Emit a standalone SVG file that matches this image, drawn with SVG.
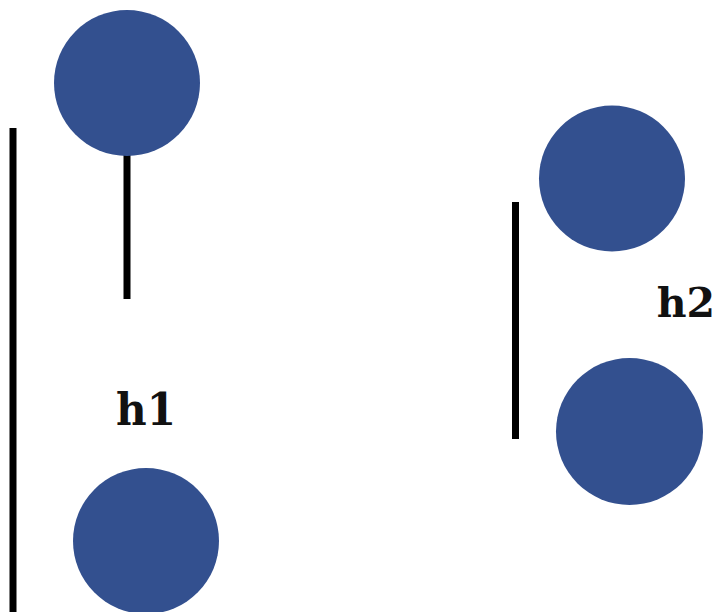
<svg xmlns="http://www.w3.org/2000/svg" width="718" height="612" viewBox="0 0 718 612">
<style>
.node{fill:#33508f}
.bar{stroke:#000;stroke-width:7;fill:none}
.lbl{font-family:"DejaVu Serif","Liberation Serif",serif;font-weight:bold;font-size:44px;fill:#111}
</style>
<rect width="718" height="612" fill="#fff"/>
<g id="connectors">
<line class="bar" x1="13" y1="128" x2="13" y2="612"/>
<line class="bar" x1="127" y1="150" x2="127" y2="299"/>
<line class="bar" x1="515.5" y1="202" x2="515.5" y2="439"/>
</g>
<g id="n1"><circle class="node" cx="127" cy="83" r="73"/></g>
<g id="n2"><circle class="node" cx="612" cy="178.5" r="73"/></g>
<g id="n3"><circle class="node" cx="629.5" cy="431.5" r="73.5"/></g>
<g id="n4"><circle class="node" cx="146" cy="541" r="73"/></g>
<g id="label-h1"><text class="lbl" x="116" y="425" textLength="60" lengthAdjust="spacingAndGlyphs">h1</text></g>
<g id="label-h2"><text class="lbl" x="715" y="317" text-anchor="end" style="font-size:41px">h2</text></g>
</svg>
